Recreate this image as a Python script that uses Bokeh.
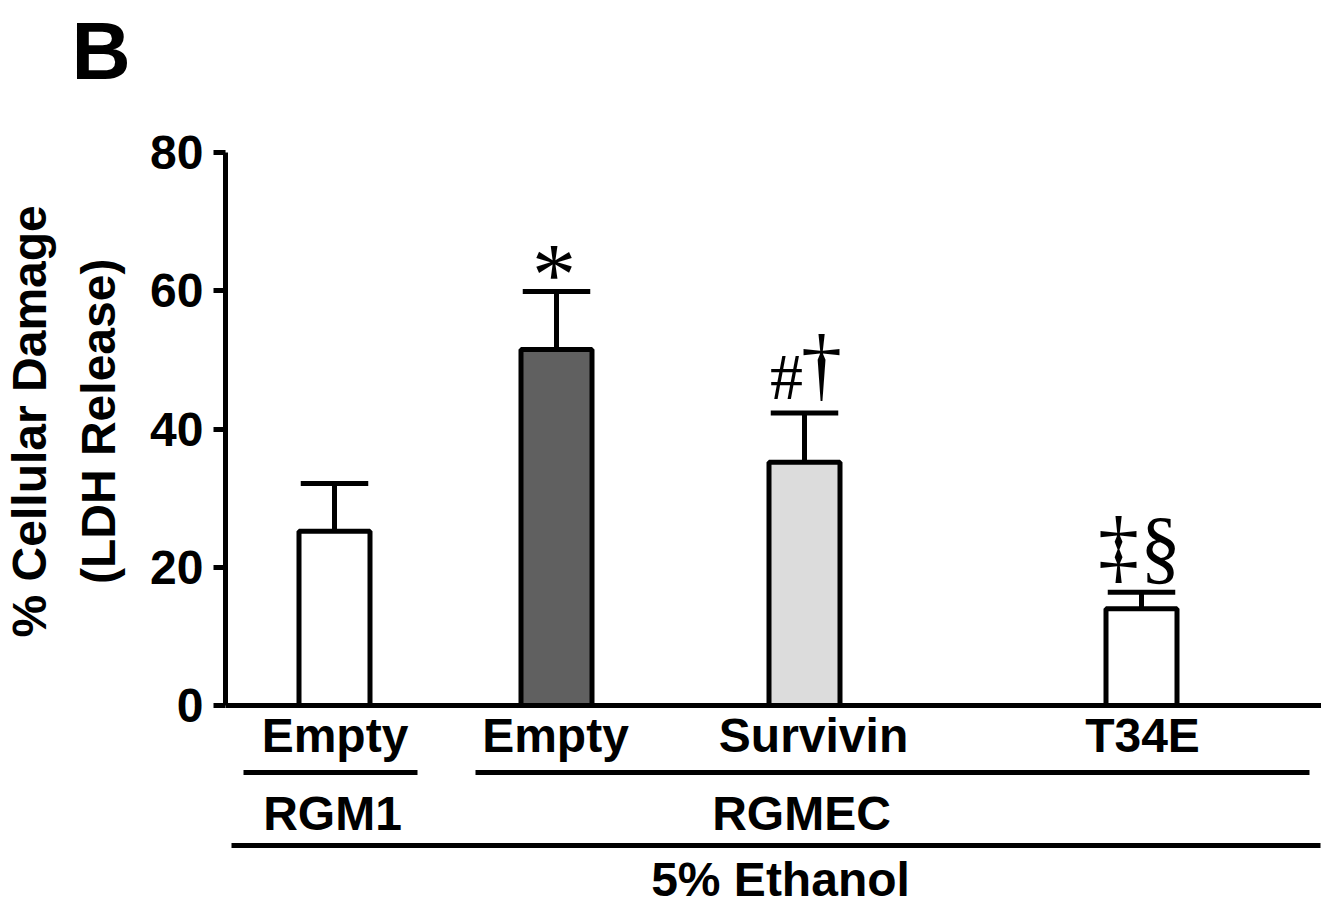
from bokeh.plotting import figure
from bokeh.models import Range1d, FixedTicker, ColumnDataSource, Title
from bokeh.core.properties import value
from bokeh.embed import file_html
from bokeh.resources import INLINE

# ---------------- data ----------------
conditions = ["Empty", "Empty", "Survivin", "T34E"]
cell_lines = ["RGM1", "RGMEC"]
treatment = "5% Ethanol"
damage_mean = [25.2, 51.5, 35.2, 14.0]
damage_sem = [6.9, 8.4, 7.1, 2.4]
significance = ["", "*", "#\u2020", "\u2021\u00a7"]
y_ticks = [0, 20, 40, 60, 80]
y_title = ["% Cellular Damage", "(LDH Release)"]
bar_colors = ["#ffffff", "#606060", "#dcdcdc", "#ffffff"]
panel_letter = "B"

# ---------------- layout (px relative to the y axis) ----------------
W, H = 1321, 907
LEFT, TOP = 225, 148          # frame left / top in figure px
Y0_PX, Y80_PX = 705, 152      # figure px of y=0 and y=80
PX = (Y0_PX - Y80_PX) / 80.0  # px per data unit
FRAME_W = W - LEFT
bar_x = [109, 331, 579, 916]
label_x = [109.5, 330, 588, 917]
bar_w = 71
cap_half = 33.75
cell_line_x = {"RGM1": 107, "RGMEC": 576}
cell_line_rules = [(18, 192), (250, 1084)]
treatment_rule = (6, 1095)
treatment_x = 555
row_px = {"cond": 750, "rule1": 772, "cell": 828, "rule2": 845, "treat": 894}
row_y = {k: (Y0_PX - v) / PX for k, v in row_px.items()}
# symbol style: dx from bar centre, font size, y offset (px, + = down)
sym_style = {
    "*": (-2.5, 88, -17),
    "#": (-18, 66, -37),
    "\u2020": (17, 82, -50),
    "\u2021": (-23, 82, -47),
    "\u00a7": (19, 82, -46),
}
LABEL_FS = 48
LABEL_SHIFT = -0.31 * LABEL_FS
TITLE_LEAD = "\u00a0" * 16    # moves the axis title up along the axis

ymax = 80 + (Y80_PX - TOP) / PX
ymin = -(H - Y0_PX) / PX

p = figure(width=W, height=H, x_range=Range1d(0, FRAME_W), y_range=Range1d(ymin, ymax),
           x_axis_location=None, toolbar_location=None, output_backend="svg",
           min_border_left=LEFT, min_border_right=0, min_border_top=TOP, min_border_bottom=0)
p.outline_line_color = None
p.grid.visible = False
p.background_fill_color = "white"
p.border_fill_color = "white"

# panel letter (title, pushed to the top by a blank spacer title next to the frame)
p.title.text = panel_letter
p.title.text_font = "Liberation Sans"
p.title.text_font_style = "bold"
p.title.text_font_size = "82px"
p.title.align = "left"
p.title.offset = -154
p.title.standoff = 0
p.title.text_color = "black"
p.add_layout(Title(text=" ", text_font_size="10px", standoff=40), "above")

ax = p.yaxis[0]
ax.bounds = (0, 80)
ax.ticker = FixedTicker(ticks=y_ticks)
ax.minor_tick_line_color = None
ax.axis_line_width = 5
ax.major_tick_line_width = 5
ax.major_tick_out = 12
ax.major_tick_in = 0
ax.major_label_standoff = 10
ax.major_label_text_font = "Liberation Sans"
ax.major_label_text_font_style = "bold"
ax.major_label_text_font_size = "48px"
ax.major_label_text_color = "black"
ax.axis_label = "\n".join(TITLE_LEAD + t for t in y_title)
ax.axis_label_text_font = "Liberation Sans"
ax.axis_label_text_font_style = "bold"
ax.axis_label_text_font_size = "48px"
ax.axis_label_text_line_height = 1.3
ax.axis_label_standoff = 22
ax.axis_label_text_color = "black"

# bars with upper error bars
tops = [m + s for m, s in zip(damage_mean, damage_sem)]
src = ColumnDataSource(dict(x=bar_x, top=damage_mean, err=tops, color=bar_colors,
                            x0=[x - cap_half for x in bar_x], x1=[x + cap_half for x in bar_x]))
p.segment(x0="x", y0="top", x1="x", y1="err", source=src, line_color="black", line_width=5)
p.segment(x0="x0", y0="err", x1="x1", y1="err", source=src, line_color="black", line_width=5)
p.vbar(x="x", top="top", bottom=0, width=bar_w, source=src, fill_color="color",
       line_color="black", line_width=5)

# baseline (x axis line)
p.segment(x0=[0], y0=[0], x1=[FRAME_W], y1=[0], line_color="black", line_width=5)

# significance symbols
sx, sy, st, ss, so = [], [], [], [], []
for xc, e, syms in zip(bar_x, tops, significance):
    for ch in syms:
        dx, fs, yo = sym_style[ch]
        sx.append(xc + dx); sy.append(e); st.append(ch); ss.append(f"{fs}px"); so.append(yo)
p.text(x=sx, y=sy, text=st, text_font_size=ss, y_offset=so, text_align="center",
       text_baseline="alphabetic", text_font=value("Liberation Serif"), text_color="black")

lab = dict(text_align="center", text_baseline="alphabetic", text_font=value("Liberation Sans"),
           text_font_style="bold", text_font_size=f"{LABEL_FS}px", text_color="black",
           y_offset=LABEL_SHIFT)
# condition labels
p.text(x=label_x, y=[row_y["cond"]] * len(conditions), text=conditions, **lab)
# cell-line rules and labels
p.segment(x0=[a for a, b in cell_line_rules], y0=[row_y["rule1"]] * 2,
          x1=[b for a, b in cell_line_rules], y1=[row_y["rule1"]] * 2,
          line_color="black", line_width=5)
p.text(x=[cell_line_x[c] for c in cell_lines], y=[row_y["cell"]] * 2, text=cell_lines, **lab)
# treatment rule and label
p.segment(x0=[treatment_rule[0]], y0=[row_y["rule2"]], x1=[treatment_rule[1]], y1=[row_y["rule2"]],
          line_color="black", line_width=5)
p.text(x=[treatment_x], y=[row_y["treat"]], text=[treatment], **lab)

open("out.html", "w").write(file_html(p, INLINE))
